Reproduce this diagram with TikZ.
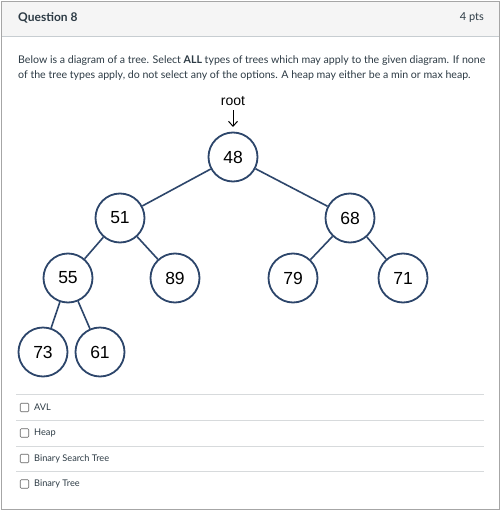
\documentclass[tikz,border=0pt]{standalone}
\usepackage{fontspec}
\usetikzlibrary{arrows.meta}
\setmainfont{Lato}
\newfontfamily\nodefont{Liberation Sans}
\definecolor{edgeblue}{HTML}{2D466B}
\definecolor{hdrgray}{HTML}{F5F5F5}
\definecolor{bordergray}{HTML}{C7CDD1}
\definecolor{sepgray}{HTML}{D7DADC}
\definecolor{txt}{HTML}{2D3B45}
\tikzset{
  tnode/.style={circle, draw=edgeblue, line width=1.8pt, fill=white, minimum size=49pt, inner sep=0pt, font=\nodefont\fontsize{17.5}{17.5}\selectfont},
  tedge/.style={draw=edgeblue, line width=1.6pt},
  chk/.style={draw=gray!80!black, line width=0.6pt, rounded corners=1pt, minimum size=8.5pt, inner sep=0pt},
  opt/.style={anchor=west, font=\fontsize{9.2}{11}\selectfont, text=txt, inner sep=0pt},
  sep/.style={draw=sepgray, line width=0.8pt}
}
\begin{document}
\begin{tikzpicture}[x=1pt,y=-1pt]
\useasboundingbox (0,0) rectangle (501,511);
\fill[white] (0,0) rectangle (501,511);
\fill[hdrgray] (2,2) rectangle (499,36);
\draw[bordergray, line width=0.8pt] (2,36) -- (499,36);
\draw[gray!70, line width=1pt] (1.5,1.5) rectangle (499.5,509.5);
\node[anchor=west, font=\bfseries\fontsize{12}{14}\selectfont, text=txt, inner sep=0pt] (q) at (18,18) {Question 8};
\node[anchor=east, font=\fontsize{11}{13}\selectfont, text=txt, inner sep=0pt] (pts) at (484,18) {4 pts};
\node[anchor=west, font=\fontsize{10.6}{12}\selectfont, text=txt, inner sep=0pt] (l1) at (18,61) {Below is a diagram of a tree. Select \textbf{ALL} types of trees which may apply to the given diagram. If none};
\node[anchor=west, font=\fontsize{10.6}{12}\selectfont, text=txt, inner sep=0pt] (l2) at (18,76) {of the tree types apply, do not select any of the options. A heap may either be a min or max heap.};

\node[font=\nodefont\fontsize{14}{14}\selectfont, inner sep=0pt] (root) at (233,101) {root};
\coordinate (ra) at (233,110);
\coordinate (rb) at (233,127);
\draw[line width=1pt, -{Straight Barb[length=5pt,width=9pt]}] (ra) -- (rb);

\node[tnode] (n48) at (233,157) {48};
\node[tnode] (n51) at (120,218) {51};
\node[tnode] (n68) at (350,218) {68};
\node[tnode] (n55) at (68,278) {55};
\node[tnode] (n89) at (175,278) {89};
\node[tnode] (n79) at (293,278) {79};
\node[tnode] (n71) at (403,278) {71};
\node[tnode] (n73) at (43,352) {73};
\node[tnode] (n61) at (100,352) {61};
\path[tedge] (n48) -- (n51);
\path[tedge] (n48) -- (n68);
\path[tedge] (n51) -- (n55);
\path[tedge] (n51) -- (n89);
\path[tedge] (n68) -- (n79);
\path[tedge] (n68) -- (n71);
\path[tedge] (n55) -- (n73);
\path[tedge] (n55) -- (n61);

\draw[sep] (16,394.5) -- (484,394.5);
\draw[sep] (16,420.5) -- (484,420.5);
\draw[sep] (16,446) -- (484,446);
\draw[sep] (16,471.5) -- (484,471.5);

\node[chk] (c1) at (24.5,407.5) {};
\node[opt] (o1) at (34,407.5) {AVL};
\node[chk] (c2) at (24.5,433) {};
\node[opt] (o2) at (34,433) {Heap};
\node[chk] (c3) at (24.5,458.5) {};
\node[opt] (o3) at (34,458.5) {Binary Search Tree};
\node[chk] (c4) at (24.5,484) {};
\node[opt] (o4) at (34,484) {Binary Tree};
\end{tikzpicture}
\end{document}
